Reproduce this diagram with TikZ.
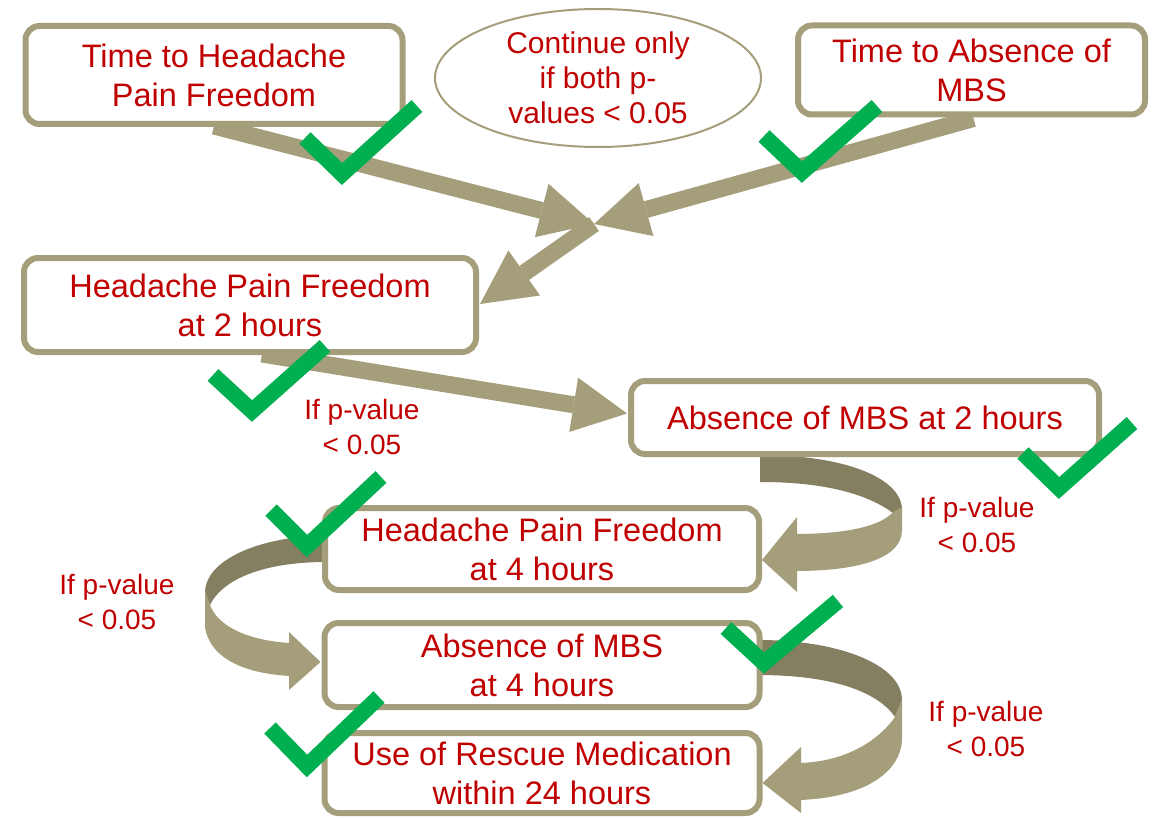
\documentclass[tikz,border=0pt]{standalone}
\usepackage{fontspec}
\setmainfont{Liberation Sans}
\usetikzlibrary{arrows.meta,calc,shapes.geometric}
\pgfdeclarelayer{back}
\pgfsetlayers{back,main}
\definecolor{tanc}{HTML}{A59E7B}
\definecolor{tandark}{HTML}{857F61}
\definecolor{txtred}{HTML}{C00000}
\definecolor{chk}{HTML}{00B050}
\tikzset{
  box/.style={draw=tanc, line width=6pt, rounded corners=14pt, fill=white, text=txtred,
    align=center, inner sep=0pt, outer sep=0pt, font=\fontsize{32.5}{39}\selectfont},
  lbl/.style={text=txtred, align=center, inner sep=0pt, font=\fontsize{28}{35}\selectfont},
  bigarrow/.style={draw=tanc, line width=17pt, line cap=butt,
    -{Triangle[width=55pt,length=54pt,line width=0pt]}},
  chkmark/.style={draw=chk, line width=16pt, line join=miter, line cap=butt},
  ribdark/.style={fill=tandark},
  riblight/.style={fill=tanc},
}
\begin{document}
\begin{tikzpicture}[x=1pt,y=-1pt]
\begin{pgfonlayer}{back}
\useasboundingbox (0,0) rectangle (1158,818);
\fill[white] (0,0) rectangle (1158,818);
\end{pgfonlayer}

% boxes
\path
  (214,75)    node[box, minimum width=377, minimum height=98] (b1) {Time to Headache\\Pain Freedom}
  (971.5,70)  node[box, minimum width=347, minimum height=89] (b2) {Time to Absence of\\MBS}
  (250,305)   node[box, minimum width=452, minimum height=94] (b3) {Headache Pain Freedom\\at 2 hours}
  (865,417.5) node[box, minimum width=468, minimum height=73] (b4) {Absence of MBS at 2 hours}
  (542,549)   node[box, minimum width=434, minimum height=82] (b5) {Headache Pain Freedom\\at 4 hours}
  (542,665)   node[box, minimum width=435, minimum height=84] (b6) {Absence of MBS\\at 4 hours}
  (542,773)   node[box, minimum width=435, minimum height=80] (b7) {Use of Rescue Medication\\within 24 hours};
\coordinate (j) at (594,224);

% ellipse
\node[ellipse, draw=tanc, line width=2pt, fill=white, minimum width=326, minimum height=138, inner sep=0pt] (ell) at (598,78) {};
\node[text=txtred, align=center, inner sep=0pt, font=\fontsize{30}{35}\selectfont] (elltxt) at (ell.center)
  {Continue only\\if both p-\\values < 0.05};

\begin{pgfonlayer}{back}
% straight connectors
\draw[bigarrow] ($(b1.south)+(0,2)$) -- (j);
\draw[bigarrow] ($(b2.south)+(2,4)$) -- (j);
\draw[bigarrow] (j) -- ($(b3.east)+(4,-1)$);
\draw[bigarrow] ($(b3.south)+(12,2)$) -- ($(b4.west)+(-4,-4)$);

% curved connector b4 -> b5
\fill[ribdark] (760,455) .. controls (845,455) and (902,478) .. (902,510) -- (893,513)
  .. controls (870,496) and (830,482) .. (760,482) -- cycle;
\fill[riblight] (893,512) -- (902,507) -- (902,530) .. controls (902,558) and (860,571) .. (795,571)
  -- (795,534) .. controls (850,534) and (882,525) .. (893,512) -- cycle;
\fill[riblight] (797,517) -- ($(b5.east)+(3,11)$) -- (797,592) -- cycle;

% curved connector b5 -> b6
\fill[ribdark] (326,535) .. controls (258,537) and (205,560) .. (205,593) -- (210,605)
  .. controls (222,580) and (262,562) .. (326,562) -- cycle;
\fill[riblight] (210,605) -- (205,590) -- (205,627) .. controls (210,660) and (248,674) .. (291,676)
  -- (291,643) .. controls (250,641) and (218,627) .. (210,605) -- cycle;
\fill[riblight] (289,632) -- ($(b6.west)+(-4,-3)$) -- (289,690) -- cycle;

% curved connector b6 -> b7
\fill[ribdark] (758,640) .. controls (840,640) and (902,665) .. (902,700) -- (895,717)
  .. controls (880,695) and (840,675) .. (758,675) -- cycle;
\fill[riblight] (895,717) -- (902,700) -- (902,740) .. controls (900,775) and (860,798) .. (799,800)
  -- (799,763) .. controls (840,762) and (875,745) .. (895,717) -- cycle;
\fill[riblight] (801,747) -- ($(b7.east)+(3,10)$) -- (801,813) -- cycle;
\end{pgfonlayer}

% labels
\node[lbl] (l1) at (362,427) {If p-value\\< 0.05};
\node[lbl] (l2) at (977,525) {If p-value\\< 0.05};
\node[lbl] (l3) at (117,602) {If p-value\\< 0.05};
\node[lbl] (l4) at (986,729) {If p-value\\< 0.05};

% check marks
\draw[chkmark] (305,138) -- (342,174) -- (417,106);
\draw[chkmark] (764,136) -- (802,172) -- (877,106);
\draw[chkmark] (213,375) -- (252,411) -- (325,346);
\draw[chkmark] (271,510) -- (307,546) -- (381,477);
\draw[chkmark] (1023,453) -- (1059,488) -- (1132,423);
\draw[chkmark] (270,728) -- (307,766) -- (379,697);
\draw[chkmark] (726,628) -- (764,663) -- (838,601);
\end{tikzpicture}
\end{document}
